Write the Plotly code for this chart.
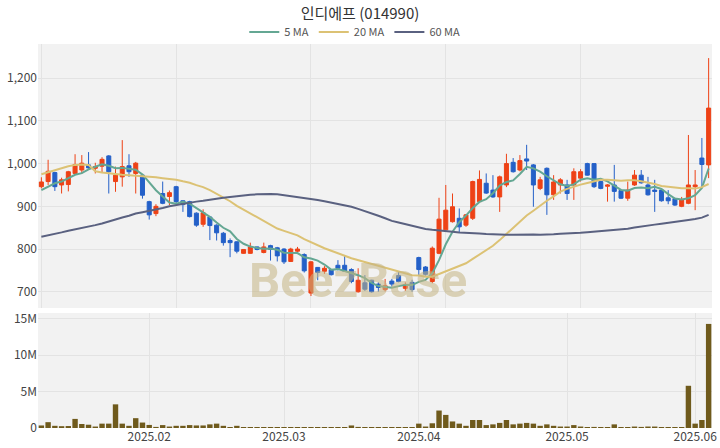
import pandas as pd
import plotly.graph_objects as go

# ---------------- data ----------------
holidays = ["2025-01-27", "2025-01-28", "2025-01-29", "2025-01-30", "2025-03-03",
            "2025-05-01", "2025-05-05", "2025-05-06", "2025-06-03"]
dates = [d.strftime("%Y-%m-%d") for d in pd.bdate_range("2025-01-06", "2025-06-05")
         if d.strftime("%Y-%m-%d") not in holidays]

opens = [946, 958, 979, 950, 951, 977, 985, 997, 989, 994,
         1018, 958, 969, 995, 977, 973, 911, 883, 930, 923,
         946, 913, 911, 884, 858, 875, 856, 837, 820, 817,
         790, 790, 805, 792, 808, 803, 800, 771, 795, 787,
         697, 757, 748, 752, 762, 762, 752, 700, 721, 727,
         718, 705, 725, 738, 708, 722, 780, 758, 724, 790,
         845, 864, 872, 856, 872, 911, 954, 938, 922, 950,
         1003, 985, 1011, 997, 942, 989, 927, 950, 950, 950,
         966, 1000, 1000, 958, 947, 950, 937, 919, 950, 973,
         950, 938, 938, 920, 918, 900, 907, 946, 1013, 997]
highs = [968, 1009, 981, 967, 983, 1022, 1020, 1027, 1002, 1015,
         1020, 993, 1055, 1022, 1004, 975, 913, 905, 958, 937,
         948, 914, 913, 886, 893, 876, 858, 840, 825, 818,
         800, 815, 806, 815, 810, 805, 802, 803, 805, 790,
         772, 758, 760, 753, 774, 784, 755, 755, 739, 728,
         722, 730, 730, 748, 722, 728, 782, 760, 806, 920,
         950, 930, 895, 882, 960, 984, 977, 973, 972, 1023,
         1013, 1020, 1044, 999, 969, 991, 973, 966, 962, 989,
         987, 1002, 1001, 960, 952, 997, 940, 958, 985, 985,
         969, 962, 940, 938, 920, 922, 1067, 985, 1060, 1247]
lows = [942, 950, 936, 930, 935, 975, 977, 988, 977, 979,
        930, 934, 946, 969, 930, 918, 869, 877, 905, 903,
        907, 887, 874, 852, 852, 821, 820, 808, 781, 790,
        789, 789, 797, 790, 773, 771, 765, 770, 792, 745,
        690, 727, 742, 738, 750, 747, 720, 698, 702, 698,
        700, 701, 712, 722, 702, 700, 738, 738, 720, 788,
        843, 862, 840, 852, 868, 908, 929, 920, 887, 945,
        979, 982, 985, 899, 938, 880, 915, 930, 915, 915,
        958, 972, 943, 940, 911, 911, 917, 913, 948, 953,
        925, 887, 911, 905, 901, 898, 905, 891, 946, 966]
closes = [957, 982, 946, 962, 981, 998, 1001, 990, 993, 1010,
          981, 973, 993, 981, 1001, 926, 880, 900, 907, 932,
          911, 904, 876, 856, 885, 855, 838, 815, 815, 795,
          799, 805, 799, 805, 799, 784, 770, 800, 800, 749,
          770, 745, 755, 740, 755, 748, 724, 727, 706, 700,
          710, 714, 718, 724, 717, 705, 752, 741, 802, 870,
          891, 899, 852, 880, 958, 963, 931, 922, 969, 1000,
          981, 1007, 1006, 950, 962, 927, 957, 962, 930, 981,
          981, 973, 946, 942, 950, 935, 919, 938, 973, 955,
          927, 935, 913, 913, 903, 915, 950, 950, 998, 1130]
volumes_m = [0.35, 0.8, 0.3, 0.25, 0.27, 1.25, 0.55, 0.45, 0.2, 0.6,
             0.6, 3.25, 0.6, 0.3, 1.35, 0.75, 0.42, 0.15, 0.4, 0.2,
             0.3, 0.3, 0.4, 0.35, 0.35, 0.5, 0.6, 0.3, 0.1, 0.3,
             0.1, 0.08, 0.08, 0.08, 0.08, 0.1, 0.05, 0.08, 0.08, 0.05,
             0.1, 0.1, 0.1, 0.05, 0.1, 0.08, 0.35, 0.15, 0.12, 0.1,
             0.05, 0.05, 0.05, 0.05, 0.08, 0.1, 0.6, 0.2, 0.65, 2.4,
             1.8, 0.9, 0.6, 0.3, 1.1, 1.1, 0.4, 0.5, 0.7, 1.1,
             0.5, 0.6, 0.7, 0.6, 0.3, 0.5, 0.3, 0.2, 0.2, 0.4,
             0.2, 0.05, 0.15, 0.05, 0.05, 0.5, 0.05, 0.1, 0.2, 0.15,
             0.2, 0.2, 0.1, 0.1, 0.1, 0.1, 5.8, 0.6, 1.1, 14.3]
# moving-average values before enough visible closes exist
ma5_head = [938, 946, 954, 958]
ma20_head = [975, 980, 985, 990, 994, 997, 998, 997, 982, 979,
             977, 975, 974, 973, 972, 971, 970, 968, 966]
ma60_head = [829, 832, 836, 839, 843, 846, 849, 852, 856, 860,
             865, 869, 874, 878, 883, 886, 889, 893, 896, 900,
             903, 906, 908, 911, 913, 916, 918, 920, 922, 924,
             926, 927, 928, 929, 929, 928, 926, 924, 922, 919,
             917, 915, 912, 909, 906, 903, 899, 894, 889, 884,
             878, 872, 866, 862, 858, 854, 850, 847, 845]

tick_dates = ["2025-02-03", "2025-03-04", "2025-04-01", "2025-05-02", "2025-06-02"]
tick_text = ["2025.02", "2025.03", "2025.04", "2025.05", "2025.06"]
price_ticks = [700, 800, 900, 1000, 1100, 1200]
vol_ticks = [0, 5e6, 10e6, 15e6]
vol_tick_text = ["0", "5M", "10M", "15M"]

# ---------------- derived ----------------
cs = pd.Series(closes, dtype=float)
def ma(n, head):
    s = cs.rolling(n).mean().tolist()
    return head + s[len(head):]
ma5 = ma(5, ma5_head)
ma20 = ma(20, ma20_head)
ma60 = ma(60, ma60_head)
volumes = [v * 1e6 for v in volumes_m]

RED = "#ee4216"
BLUE = "#2460c8"
FONT = "Noto Sans CJK KR"

fig = go.Figure()
fig.add_trace(go.Candlestick(
    x=dates, open=opens, high=highs, low=lows, close=closes,
    increasing=dict(line=dict(color=RED, width=1), fillcolor=RED),
    decreasing=dict(line=dict(color=BLUE, width=1), fillcolor=BLUE),
    whiskerwidth=0, showlegend=False, xaxis="x", yaxis="y", hoverinfo="skip"))
for name, vals, col in [("5 MA", ma5, "#64a793"), ("20 MA", ma20, "#dcc274"),
                        ("60 MA", ma60, "#5a6180")]:
    fig.add_trace(go.Scatter(x=dates, y=vals, mode="lines", name=name,
                             line=dict(color=col, width=2), xaxis="x", yaxis="y"))
fig.add_trace(go.Bar(x=dates, y=volumes, marker=dict(color="#6f5a1c", line=dict(width=0)),
                     showlegend=False, xaxis="x2", yaxis="y2"))

grid = "#e3e3e3"
fig.update_layout(
    width=720, height=448,
    margin=dict(l=38, r=8, t=44, b=20, autoexpand=False),
    paper_bgcolor="white", plot_bgcolor="#f2f2f2",
    font=dict(family=FONT, color="#444", size=12),
    title=dict(text="인디에프 (014990)", x=0.5, xanchor="center", y=1 - 14 / 448,
               yanchor="middle", font=dict(size=15, color="#333")),
    legend=dict(orientation="h", x=0.47, xanchor="center", y=1.031, yanchor="middle",
                font=dict(size=11, color="#555"), bgcolor="rgba(0,0,0,0)"),
    boxgap=0.15,
    bargap=0.2,
    xaxis=dict(type="category", domain=[0, 1], anchor="y", rangeslider=dict(visible=False),
               tickvals=[dates[i] for i in (0, 20, 40, 60, 80)], showticklabels=False,
               showgrid=True, gridcolor=grid, ticks="", range=[-0.5, 99.5], automargin=False),
    yaxis=dict(domain=[0.3125, 1], range=[662, 1280], tickvals=price_ticks, tickformat=",",
               showgrid=True, gridcolor=grid, ticks="", zeroline=False, anchor="x",
               automargin=False),
    xaxis2=dict(type="category", domain=[0, 1], anchor="y2", tickvals=tick_dates,
                ticktext=tick_text, showgrid=True, gridcolor=grid, ticks="",
                range=[-0.5, 99.5], tickfont=dict(size=12), automargin=False),
    yaxis2=dict(domain=[0, 0.2995], range=[0, 15.8e6], tickvals=vol_ticks,
                ticktext=vol_tick_text, showgrid=True, gridcolor=grid, ticks="",
                zeroline=False, anchor="x2", automargin=False),
)
fig.add_annotation(text="<b>BeezBase</b>", xref="paper", yref="paper", x=0.475, y=0.305,
                   showarrow=False, font=dict(family="Roboto", size=49,
                                              color="rgba(196,180,132,0.55)"))
fig.write_html("out.html", config={"displayModeBar": False},
               post_script="document.body.style.margin='0px';")
